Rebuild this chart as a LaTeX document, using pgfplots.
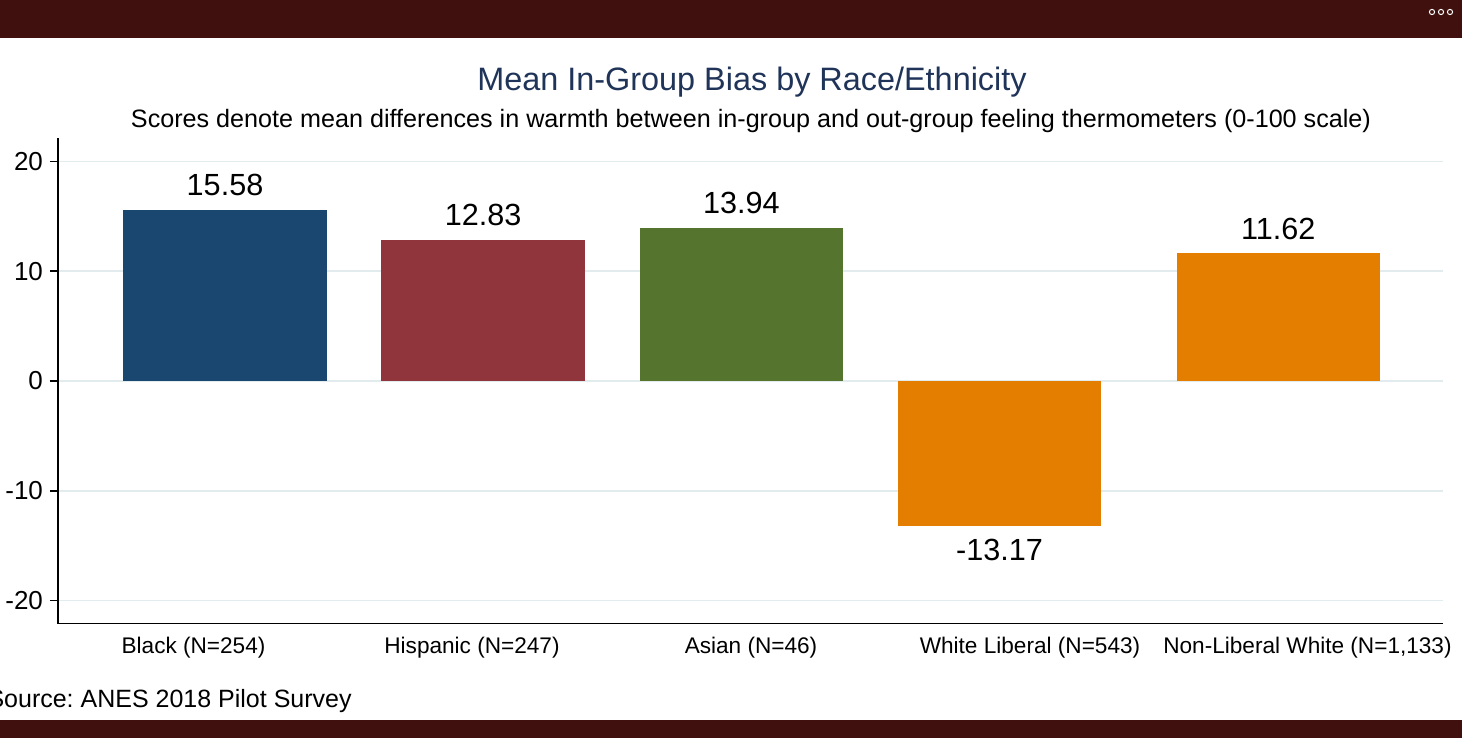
\documentclass[border=0pt]{standalone}
\usepackage{fontspec}
\setmainfont{Liberation Sans}
\usepackage{pgfplots}
\pgfplotsset{compat=1.18}
\definecolor{band}{RGB}{63,16,13}
\definecolor{titleblue}{RGB}{31,52,88}
\definecolor{cnavy}{RGB}{26,71,111}
\definecolor{cmaroon}{RGB}{144,53,59}
\definecolor{cgreen}{RGB}{85,117,47}
\definecolor{corange}{RGB}{227,126,0}
\definecolor{gridc}{RGB}{226,236,239}
\frenchspacing
\begin{document}
\begin{tikzpicture}
\useasboundingbox (0pt,0pt) rectangle (731pt,369pt);
\clip (0pt,0pt) rectangle (731pt,369pt);
\fill[white] (0pt,0pt) rectangle (731pt,369pt);
\fill[band] (0pt,350pt) rectangle (731pt,369pt);
\fill[band] (0pt,0pt) rectangle (731pt,9pt);
\foreach \cx in {716,720.5,725} \draw[white, line width=0.5pt] (\cx pt,363pt) circle (1.3pt);
\node[anchor=base, text=titleblue, font=\fontsize{16.2}{19}\selectfont, inner sep=0pt] at (376pt,323.5pt) {Mean In-Group Bias by Race/Ethnicity};
\node[anchor=base, font=\fontsize{12.58}{15}\selectfont, inner sep=0pt] at (375.5pt,305pt) {Scores denote mean differences in warmth between in-group and out-group feeling thermometers (0-100 scale)};
\node[anchor=base east, font=\fontsize{12.5}{15}\selectfont, inner sep=0pt] at (176pt,15pt) {Source: ANES 2018 Pilot Survey};
\begin{axis}[
  at={(29pt,57.15pt)}, anchor=south west,
  scale only axis, width=692.5pt, height=242.7pt,
  xmin=-0.6469, xmax=4.7178, ymin=-22.1, ymax=22.1,
  axis x line*=bottom, axis y line*=left,
  axis line style={black, line width=0.7pt},
  ytick={-20,-10,0,10,20},
  ytick align=outside, major tick length=4pt,
  ytick style={black, line width=0.7pt},
  xtick={-0.122,0.9567,2.0374,3.1181,4.1929},
  xticklabels={{Black (N=254)},{Hispanic (N=247)},{Asian (N=46)},{White Liberal (N=543)},{Non-Liberal White (N=1,133)}},
  xtick style={draw=none},
  ymajorgrids, grid style={gridc, line width=0.7pt},
  yticklabel style={font=\fontsize{13}{15}\selectfont},
  xticklabel style={font=\fontsize{11.3}{13}\selectfont, inner ysep=2.3pt},
  /pgf/number format/assume math mode=true,
  ybar, bar width=101.75pt,
  nodes near coords={\pgfmathprintnumber[fixed,fixed zerofill,precision=2,assume math mode=true]{\pgfplotspointmeta}},
  nodes near coords align={vertical},
  every node near coord/.append style={font=\fontsize{15.3}{18}\selectfont, black, inner ysep=6.8pt},
]
\addplot[ybar, bar shift=0pt, fill=cnavy, draw=none] coordinates {(0,15.58)};
\addplot[ybar, bar shift=0pt, fill=cmaroon, draw=none] coordinates {(1,12.83)};
\addplot[ybar, bar shift=0pt, fill=cgreen, draw=none] coordinates {(2,13.94)};
\addplot[ybar, bar shift=0pt, fill=corange, draw=none] coordinates {(3,-13.17)};
\addplot[ybar, bar shift=0pt, fill=corange, draw=none] coordinates {(4.08,11.62)};
\end{axis}
\end{tikzpicture}
\end{document}
